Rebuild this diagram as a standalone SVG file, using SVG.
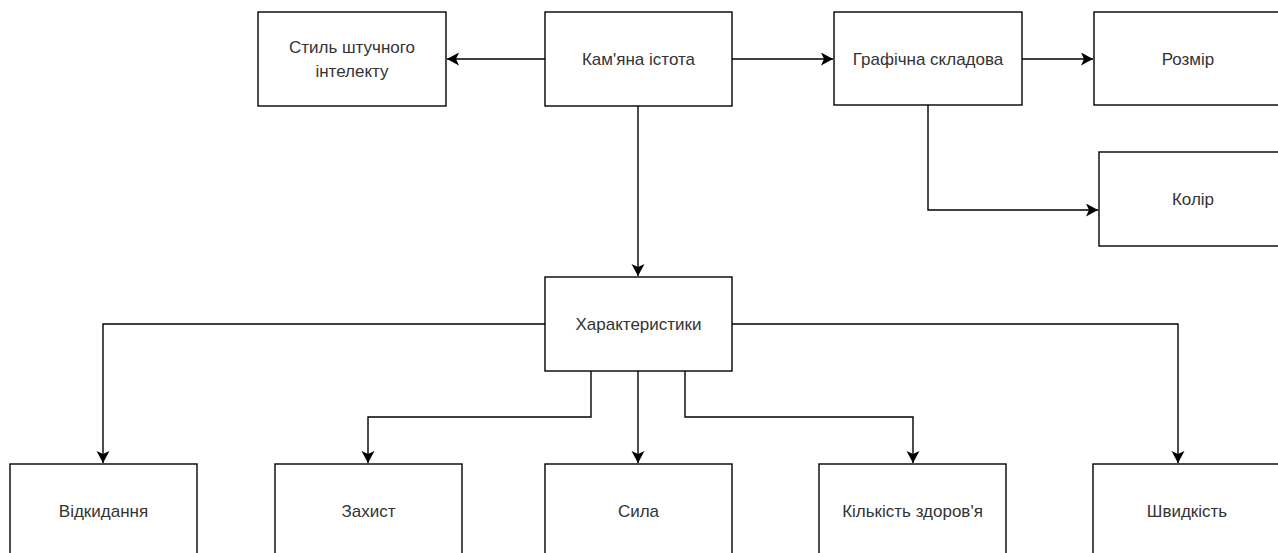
<svg xmlns="http://www.w3.org/2000/svg" width="1278" height="553" viewBox="0 0 1278 553">
<style>
.box{fill:#fff;stroke:#000;stroke-width:1.4}
.lbl{font-family:"Liberation Sans",Arial,sans-serif;font-size:17px;fill:#333;text-anchor:middle;dominant-baseline:central}
.edge{fill:none;stroke:#000;stroke-width:1.4}
</style>
<defs>
<marker id="arr" markerUnits="userSpaceOnUse" markerWidth="14" markerHeight="14" refX="12" refY="6.5" orient="auto">
<path d="M0,0 L12,6.5 L0,13 L3,6.5 Z" fill="#000"/>
</marker>
</defs>
<rect width="1278" height="553" fill="#fff"/>
<g id="connectors">
<path class="edge" d="M545,59 H447" marker-end="url(#arr)"/>
<path class="edge" d="M732,59 H833" marker-end="url(#arr)"/>
<path class="edge" d="M1022,59 H1093" marker-end="url(#arr)"/>
<path class="edge" d="M928,105 V210 H1098" marker-end="url(#arr)"/>
<path class="edge" d="M638,106 V276" marker-end="url(#arr)"/>
<path class="edge" d="M545,324 H103 V463" marker-end="url(#arr)"/>
<path class="edge" d="M732,324 H1178 V463" marker-end="url(#arr)"/>
<path class="edge" d="M591,371 V417 H368 V463" marker-end="url(#arr)"/>
<path class="edge" d="M638,371 V463" marker-end="url(#arr)"/>
<path class="edge" d="M685,371 V417 H913 V463" marker-end="url(#arr)"/>
</g>
<g id="n-ai"><rect class="box" x="258" y="12" width="188" height="94"/><text class="lbl" x="352" y="47">Стиль штучного</text><text class="lbl" x="352" y="71">інтелекту</text></g>
<g id="n-stone"><rect class="box" x="545" y="12" width="187" height="94"/><text class="lbl" x="638.5" y="59">Кам'яна істота</text></g>
<g id="n-graphics"><rect class="box" x="834" y="12" width="188" height="93"/><text class="lbl" x="928" y="59">Графічна складова</text></g>
<g id="n-size"><rect class="box" x="1094" y="12" width="188" height="93"/><text class="lbl" x="1188" y="59">Розмір</text></g>
<g id="n-color"><rect class="box" x="1099" y="152" width="188" height="94"/><text class="lbl" x="1193" y="199">Колір</text></g>
<g id="n-stats"><rect class="box" x="545" y="277" width="187" height="94"/><text class="lbl" x="638.5" y="324">Характеристики</text></g>
<g id="n-knock"><rect class="box" x="10" y="464" width="187" height="94"/><text class="lbl" x="103.5" y="511">Відкидання</text></g>
<g id="n-defense"><rect class="box" x="275" y="464" width="187" height="94"/><text class="lbl" x="368.5" y="511">Захист</text></g>
<g id="n-strength"><rect class="box" x="545" y="464" width="187" height="94"/><text class="lbl" x="638.5" y="511">Сила</text></g>
<g id="n-health"><rect class="box" x="819" y="464" width="187" height="94"/><text class="lbl" x="912.5" y="511">Кількість здоров'я</text></g>
<g id="n-speed"><rect class="box" x="1093" y="464" width="188" height="94"/><text class="lbl" x="1187" y="511">Швидкість</text></g>
</svg>
